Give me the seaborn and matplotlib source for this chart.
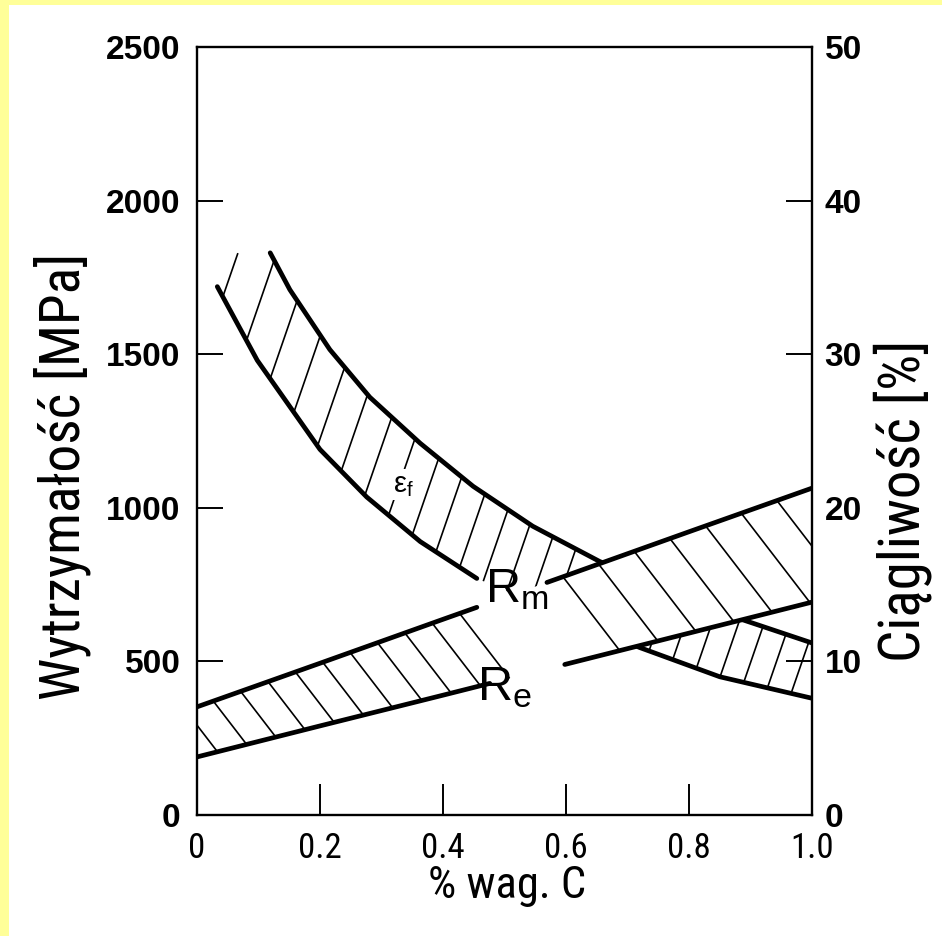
import numpy as np
import pandas as pd
import matplotlib
matplotlib.use("Agg")
import matplotlib.pyplot as plt
from matplotlib import font_manager
from matplotlib.collections import LineCollection
from matplotlib.patches import Rectangle
import seaborn as sns

# Strength of carbon steel vs carbon content (wt. %), MPa
carbon_strength = [0.0, 0.2, 0.4, 0.6, 0.8, 1.0]
rm_mpa = [352, 494, 637, 779, 922, 1064]     # tensile strength R_m
re_mpa = [189, 290, 390, 491, 592, 693]      # yield strength R_e

# Elongation at fracture band, %
carbon_ef_upper = [0.119, 0.151, 0.216, 0.281, 0.363, 0.449, 0.546, 0.655, 0.888, 1.0]
ef_upper = [36.6, 34.2, 30.3, 27.2, 24.2, 21.4, 18.8, 16.5, 12.7, 11.2]
carbon_ef_lower = [0.033, 0.098, 0.200, 0.276, 0.363, 0.455, 0.720, 0.850, 1.0]
ef_lower = [34.4, 29.6, 23.8, 20.7, 17.8, 15.4, 10.9, 9.0, 7.6]

x_ticks = [0.0, 0.2, 0.4, 0.6, 0.8, 1.0]
x_tick_labels = ["0", "0.2", "0.4", "0.6", "0.8", "1.0"]
mpa_ticks = [0, 500, 1000, 1500, 2000, 2500]
pct_ticks = [0, 10, 20, 30, 40, 50]

# breaks left in the curves for the R_m / R_e labels
RM_GAP = (0.455, 0.569)
RE_GAP = (0.476, 0.598)

sns.set_theme(style="white")
installed = {f.name for f in font_manager.fontManager.ttflist}
NARROW = next((n for n in ["Liberation Sans Narrow", "Roboto Condensed", "DejaVu Sans"] if n in installed), "DejaVu Sans")
plt.rcParams["font.family"] = ["Liberation Sans", "DejaVu Sans"]
plt.rcParams["mathtext.default"] = "regular"

W, H, DPI = 942, 936, 100
fig = plt.figure(figsize=(W / DPI, H / DPI), dpi=DPI, facecolor="#FFFF99")
fig.patches.append(Rectangle((9 / W, 0), 1, (H - 5) / H, transform=fig.transFigure,
                             facecolor="white", edgecolor="none", zorder=0))

ax = fig.add_axes([197 / W, 1 - 815 / H, 615 / W, 768 / H])
ax_e = ax.twinx()
ax_e.set_zorder(1)
ax.set_zorder(2)
ax.patch.set_visible(False)
ax_e.patch.set_facecolor("white")

ax.set_xlim(0, 1.0)
ax.set_ylim(0, 2500)
ax_e.set_ylim(0, 50)

CURVE_LW = 3.4
HATCH_LW = 1.2
INK = "black"


def pieces(xs, ys, gap=None):
    """Split a curve into drawable parts around a label gap."""
    xs = np.asarray(xs, float)
    ys = np.asarray(ys, float)
    if gap is None:
        return pd.DataFrame({"x": xs, "y": ys, "part": 0})
    g0, g1 = gap
    a = xs < g0
    b = xs > g1
    xa = np.append(xs[a], g0)
    ya = np.append(ys[a], np.interp(g0, xs, ys))
    xb = np.insert(xs[b], 0, g1)
    yb = np.insert(ys[b], 0, np.interp(g1, xs, ys))
    return pd.DataFrame({"x": np.concatenate([xa, xb]),
                         "y": np.concatenate([ya, yb]),
                         "part": [0] * len(xa) + [1] * len(xb)})


def draw_curve(target, xs, ys, gap=None, z=3):
    df = pieces(xs, ys, gap)
    sns.lineplot(data=df, x="x", y="y", units="part", estimator=None, sort=False,
                 color=INK, lw=CURVE_LW, solid_capstyle="round", ax=target,
                 legend=False, zorder=z)


def extend(xq, xs, ys):
    xs = np.asarray(xs, float)
    ys = np.asarray(ys, float)
    xq = np.asarray(xq, float)
    y = np.interp(xq, xs, ys)
    lo = xq < xs[0]
    hi = xq > xs[-1]
    y = np.where(lo, ys[0] + (xq - xs[0]) * (ys[1] - ys[0]) / (xs[1] - xs[0]), y)
    y = np.where(hi, ys[-1] + (xq - xs[-1]) * (ys[-1] - ys[-2]) / (xs[-1] - xs[-2]), y)
    return y


def hatch(target, from_xy, to_xy, starts, px_slope, clamp_to=False):
    """Hatch strokes starting on one boundary and running to the other."""
    fig.canvas.draw()
    bb = target.get_window_extent()
    x0l, x1l = target.get_xlim()
    y0l, y1l = target.get_ylim()
    slope = px_slope * (bb.width / (x1l - x0l)) / (bb.height / (y1l - y0l))
    grid = np.linspace(-0.2, 1.3, 6001)
    if clamp_to:
        to_vals = np.interp(grid, *to_xy)
    else:
        to_vals = extend(grid, *to_xy)
    segs = []
    for s in starts:
        ys = float(extend(s, *from_xy))
        diff = ys + slope * (grid - s) - to_vals
        ok = grid > s
        sign = np.sign(diff[ok])
        idx = np.where(np.diff(sign) != 0)[0]
        if len(idx) == 0:
            continue
        xe = grid[ok][idx[0]]
        segs.append([(s, ys), (xe, ys + slope * (xe - s))])
    target.add_collection(LineCollection(segs, colors=INK, linewidths=HATCH_LW,
                                         zorder=2, clip_on=True))


# ---- elongation band (drawn underneath) ----
draw_curve(ax_e, carbon_ef_upper, ef_upper)
draw_curve(ax_e, carbon_ef_lower, ef_lower, gap=RM_GAP)
hatch(ax_e, (carbon_ef_lower, ef_lower), (carbon_ef_upper, ef_upper),
      np.arange(0.042, 1.0, 0.0385), 2.9, clamp_to=True)
ax_e.text(0.335, 21.5, r"$\epsilon_f$", fontsize=21, ha="center", va="center",
          color=INK, zorder=4,
          bbox=dict(facecolor="white", edgecolor="none", pad=1))

# ---- strength band (drawn on top, white fill hides what lies behind) ----
ax.fill_between(carbon_strength, re_mpa, rm_mpa, facecolor="white", edgecolor="none",
                zorder=1.5)
draw_curve(ax, carbon_strength, rm_mpa, gap=RM_GAP)
draw_curve(ax, carbon_strength, re_mpa, gap=RE_GAP)
hatch(ax, (carbon_strength, rm_mpa), (carbon_strength, re_mpa),
      np.arange(-0.018, 0.44, 0.0445), -1.3)
hatch(ax, (carbon_strength, rm_mpa), (carbon_strength, re_mpa),
      np.arange(0.595, 0.99, 0.058), -1.3)
ax.text(0.52, 735, r"$\mathregular{R_m}$", fontsize=35, ha="center", va="center", color=INK)
ax.text(0.50, 416, r"$\mathregular{R_e}$", fontsize=35, ha="center", va="center", color=INK)

# ---- axes styling ----
for sp in ax_e.spines.values():
    sp.set_visible(False)
for sp in ax.spines.values():
    sp.set_visible(True)
    sp.set_color(INK)
    sp.set_linewidth(1.7)
    sp.set_zorder(5)

ax.set_xticks(x_ticks)
ax.set_xticklabels(x_tick_labels)
ax.set_yticks(mpa_ticks)
ax.set_yticklabels([str(v) for v in mpa_ticks])
ax_e.set_yticks(pct_ticks)
ax_e.set_yticklabels([str(v) for v in pct_ticks])

ax.tick_params(axis="y", direction="in", left=True, right=True, labelright=False,
               length=19, width=1.4, color=INK, pad=12, labelsize=24, labelcolor=INK)
ax.tick_params(axis="x", direction="in", bottom=True, top=False, length=22, width=1.4,
               color=INK, pad=12, labelsize=25, labelcolor=INK)
ax_e.tick_params(axis="y", right=True, length=0, pad=9, labelsize=24, labelcolor=INK)
for t in ax.get_yticklabels() + ax_e.get_yticklabels():
    t.set_fontweight("bold")
for t in ax.get_xticklabels():
    t.set_family([NARROW, "DejaVu Sans"])

ax.set_xlabel("% wag. C", fontsize=32, family=[NARROW, "DejaVu Sans"], color=INK)
ax.set_ylabel("Wytrzymałość [MPa]", fontsize=40, family=[NARROW, "DejaVu Sans"], color=INK)
ax_e.set_ylabel("Ciągliwość [%]", fontsize=41, family=[NARROW, "DejaVu Sans"], color=INK)
ax.xaxis.set_label_coords(0.504, -0.093)
ax.xaxis.label.set_va("center")
ax.yaxis.set_label_coords(-0.2195, 0.441)
ax.yaxis.label.set_va("center")
ax_e.yaxis.set_label_coords(1.148, 0.409)
ax_e.yaxis.label.set_va("center")
ax_e.yaxis.label.set_rotation(90)

fig.savefig("out.png", dpi=DPI, facecolor=fig.get_facecolor())
